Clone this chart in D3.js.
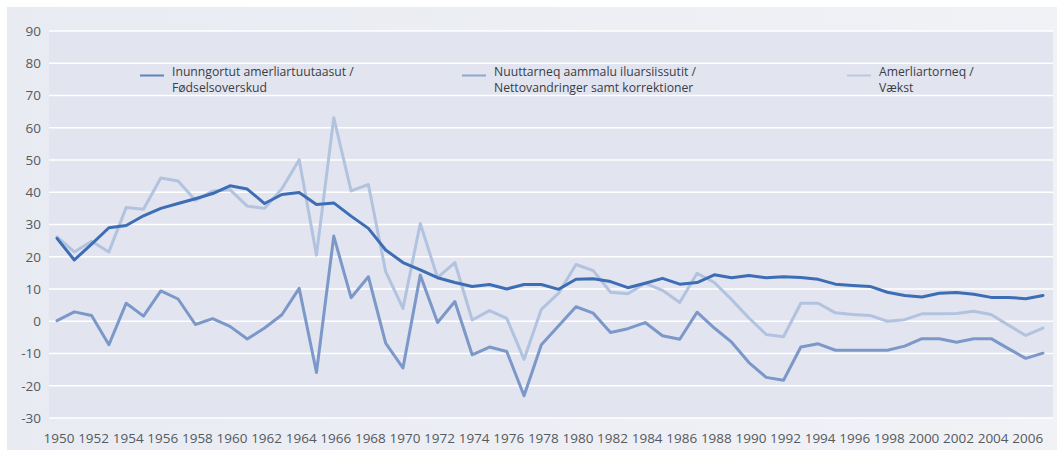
<!DOCTYPE html>
<html lang="da">
<head>
	<meta charset="UTF-8">
	<title>Befolkningsudvikling</title>
	<script src="https://d3js.org/d3.v7.min.js"></script>
	<style>
		body{
			margin: 0;
			background: #ffffff;
		}
		svg text{
			font-family: "Open Sans", "DejaVu Sans", sans-serif;
		}
		.tick-label{
			font-size: 13.5px;
			fill: #555a60;
		}
		.legend-label{
			font-size: 12.2px;
			fill: #3a3d42;
		}
	</style>
</head>
<body>
	<div id="chart"></div>
	<script>
		// years on the x axis
		const years=[1950,1951,1952,1953,1954,1955,1956,1957,1958,1959,
			1960,1961,1962,1963,1964,1965,1966,1967,1968,1969,
			1970,1971,1972,1973,1974,1975,1976,1977,1978,1979,
			1980,1981,1982,1983,1984,1985,1986,1987,1988,1989,
			1990,1991,1992,1993,1994,1995,1996,1997,1998,1999,
			2000,2001,2002,2003,2004,2005,2006,2007];
		// Inunngortut amerliartuutaasut / Fødselsoverskud
		const birthSurplus=[25.7,19.0,23.9,29.0,29.7,32.7,35.0,36.5,38.0,39.6,
			42.0,41.0,36.5,39.3,39.9,36.2,36.7,32.6,28.8,22.1,
			18.2,15.9,13.5,12.0,10.8,11.4,10.0,11.4,11.4,9.9,
			13.0,13.2,12.3,10.4,11.8,13.3,11.5,12.0,14.4,13.5,
			14.2,13.5,13.8,13.6,13.0,11.5,11.1,10.8,9.0,8.0,
			7.5,8.7,8.9,8.4,7.4,7.4,7.0,8.0];
		// Nuuttarneq aammalu iluarsiissutit / Nettovandringer samt korrektioner
		const netMigration=[0.2,2.9,1.8,-7.3,5.6,1.6,9.4,6.9,-1.0,0.8,
			-1.6,-5.5,-2.1,2.0,10.2,-15.9,26.4,7.3,13.8,-6.8,
			-14.5,14.3,-0.4,6.1,-10.4,-8.0,-9.4,-23.1,-7.3,-1.4,
			4.5,2.5,-3.5,-2.3,-0.4,-4.5,-5.6,2.8,-2.1,-6.5,
			-12.8,-17.4,-18.3,-8.0,-7.0,-9.0,-9.0,-9.0,-9.0,-7.7,
			-5.4,-5.4,-6.5,-5.4,-5.4,-8.5,-11.5,-9.9];
		// Amerliartorneq / Vækst
		const growth=[26.2,21.5,24.8,21.5,35.3,34.7,44.4,43.5,37.5,40.4,
			40.8,35.7,35.0,41.1,50.1,20.5,63.1,40.4,42.4,15.4,
			4.0,30.3,13.5,18.2,0.4,3.3,0.9,-11.8,3.7,8.7,
			17.6,15.7,9.0,8.5,11.8,9.6,5.8,14.9,12.0,6.7,
			1.0,-4.1,-4.8,5.6,5.6,2.6,2.1,1.8,0.0,0.5,
			2.3,2.3,2.4,3.1,2.1,-1.2,-4.4,-2.1];
		// axis ticks
		const yTicks=[-30,-20,-10,0,10,20,30,40,50,60,70,80,90];
		const xTicks=[1950,1952,1954,1956,1958,1960,1962,1964,1966,1968,
			1970,1972,1974,1976,1978,1980,1982,1984,1986,1988,
			1990,1992,1994,1996,1998,2000,2002,2004,2006];
		// legend texts
		const legendLines=[
			["Inunngortut amerliartuutaasut /","Fødselsoverskud"],
			["Nuuttarneq aammalu iluarsiissutit /","Nettovandringer samt korrektioner"],
			["Amerliartorneq /","Vækst"]
		];

		const width=1057;
		const height=450;
		const colors=["#3d6db4","#7b98c9","#b2c3df"];
		const seriesList=[birthSurplus,netMigration,growth];

		const svg=d3.select('#chart')
			.append('svg')
			.attr('width',width)
			.attr('height',height);

		// outer panel
		const defs=svg.append('defs');
		const grad=defs.append('linearGradient')
			.attr('id','panelGrad')
			.attr('x1','0%').attr('x2','100%')
			.attr('y1','0%').attr('y2','0%');
		grad.append('stop').attr('offset','0%').attr('stop-color','#e8ebf2');
		grad.append('stop').attr('offset','100%').attr('stop-color','#f1f2f6');
		svg.append('rect')
			.attr('x',7).attr('y',7)
			.attr('width',width-7).attr('height',height-7)
			.attr('fill','url(#panelGrad)');

		//scales
		const x=d3.scaleLinear().domain([1950,2007]).range([57,1043]);
		const y=d3.scaleLinear().domain([-30,90]).range([418,31]);

		// plot area
		svg.append('rect')
			.attr('x',49).attr('y',y(90))
			.attr('width',1053-49).attr('height',y(-30)-y(90))
			.attr('fill','#e2e4ef');

		// grid lines
		svg.append('g')
			.selectAll('line')
			.data(yTicks).enter()
			.append('line')
			.attr('x1',49).attr('x2',1053)
			.attr('y1',d=>y(d)).attr('y2',d=>y(d))
			.attr('stroke','#ffffff')
			.attr('stroke-width',1.6);

		// y labels
		svg.append('g')
			.selectAll('text')
			.data(yTicks).enter()
			.append('text')
			.attr('class','tick-label')
			.attr('x',41)
			.attr('y',d=>y(d))
			.attr('dy','0.36em')
			.attr('text-anchor','end')
			.text(d=>d);

		// x labels
		svg.append('g')
			.selectAll('text')
			.data(xTicks).enter()
			.append('text')
			.attr('class','tick-label')
			.attr('x',d=>x(d)+2)
			.attr('y',443)
			.attr('text-anchor','middle')
			.text(d=>d);

		// lines, lightest first
		const line=d3.line()
			.x((d,i)=>x(years[i]))
			.y(d=>y(d));
		[2,1,0].forEach(k=>{
			svg.append('path')
				.datum(seriesList[k])
				.attr('d',line)
				.attr('fill','none')
				.attr('stroke',colors[k])
				.attr('stroke-width',3)
				.attr('stroke-linejoin','round')
				.attr('stroke-linecap','round');
		});

		// legend
		const legendX=[140,462,847];
		const legend=svg.append('g')
			.selectAll('g')
			.data(legendLines).enter()
			.append('g')
			.attr('transform',(d,i)=>`translate(${legendX[i]},0)`);
		legend.append('line')
			.attr('x1',0).attr('x2',24)
			.attr('y1',75.5).attr('y2',75.5)
			.attr('stroke',(d,i)=>colors[i])
			.attr('stroke-width',2)
			.attr('opacity',0.8);
		legend.append('text')
			.attr('class','legend-label')
			.attr('x',32)
			.attr('y',75.5)
			.selectAll('tspan')
			.data(d=>d).enter()
			.append('tspan')
			.attr('x',32)
			.attr('dy',(d,i)=>i===0?0:16)
			.text(d=>d);
	</script>
</body>
</html>
